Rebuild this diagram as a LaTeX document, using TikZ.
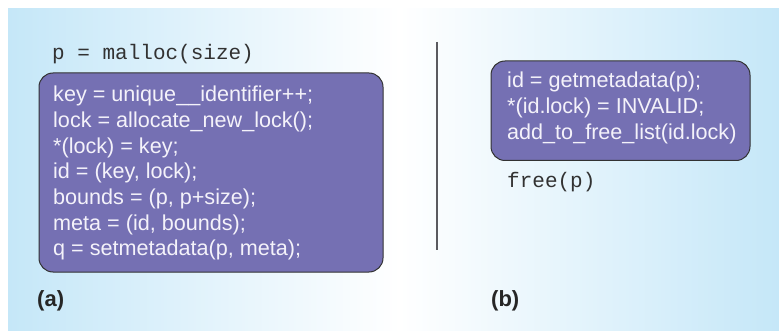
\documentclass[tikz,border=0pt]{standalone}
\usepackage{fontspec}
\setmainfont{Liberation Sans}
\setmonofont{Liberation Mono}
\definecolor{bgblue}{RGB}{197,231,248}
\definecolor{boxfill}{RGB}{117,112,179}
\definecolor{boxtext}{RGB}{244,242,250}
\definecolor{codegray}{RGB}{50,50,50}
\definecolor{rulegray}{RGB}{90,90,95}
\tikzset{
  codebox/.style={draw=codegray, line width=1pt, fill=boxfill, rounded corners=14pt, inner sep=0pt},
  boxline/.style={anchor=base west, inner sep=0pt, text=boxtext, font=\fontsize{21.6}{25.6}\selectfont},
  monoline/.style={anchor=base west, inner sep=0pt, text=codegray, font=\fontsize{21}{25}\ttfamily},
  panellabel/.style={anchor=base west, inner sep=0pt, text=black!85, font=\fontsize{22}{25}\bfseries},
}
\begin{document}
\begin{tikzpicture}[x=1pt,y=-1pt]
\useasboundingbox (0,0) rectangle (779,331);
% background gradient panel
\shade[left color=bgblue, right color=white, shading angle=90] (8,9) rectangle (400,331);
\shade[left color=white, right color=bgblue] (399,9) rectangle (779,331);
% left panel
\node[monoline] (malloc) at (52,60) {p = malloc(size)};
\node[codebox, minimum width=344pt, minimum height=199pt] (boxa) at (211,172.5) {};
\foreach \t [count=\i] in {key = unique\_\_identifier++;, lock = allocate\_new\_lock();, *(lock) = key;, {id = (key, lock);}, {bounds = (p, p+size);}, {meta = (id, bounds);}, {q = setmetadata(p, meta);}}
  \node[boxline] (a\i) at (53,{102+25.6*(\i-1)}) {\t};
\node[panellabel] (la) at (37,306) {(a)};
% divider
\coordinate (dtop) at (437,42);
\coordinate (dbot) at (437,250);
\draw[rulegray, line width=1.6pt] (dtop) -- (dbot);
% right panel
\node[codebox, minimum width=259pt, minimum height=99.5pt] (boxb) at (620.5,110.75) {};
\foreach \t [count=\i] in {id = getmetadata(p);, *(id.lock) = INVALID;, add\_to\_free\_list(id.lock)}
  \node[boxline] (b\i) at (507,{88+25.6*(\i-1)}) {\t};
\node[monoline] (free) at (507,188) {free(p)};
\node[panellabel] (lb) at (491,306) {(b)};
\end{tikzpicture}
\end{document}
